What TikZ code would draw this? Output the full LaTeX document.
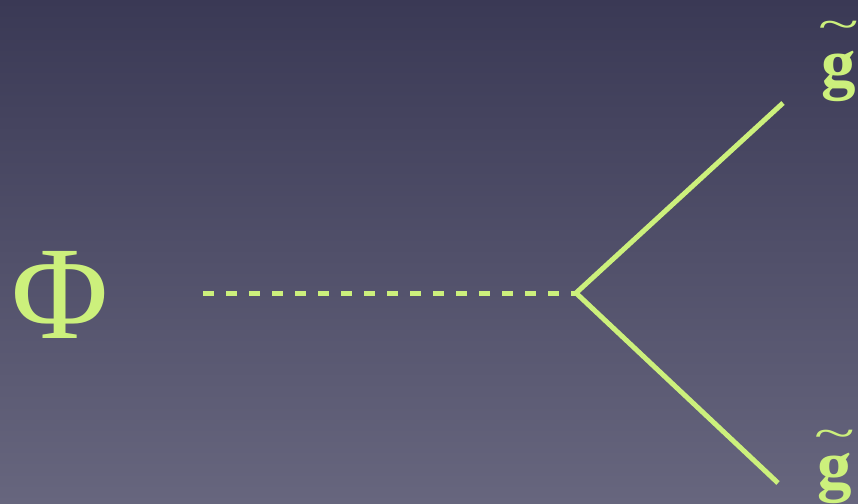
\documentclass[tikz,border=0pt]{standalone}
\usepackage{fontspec}
\setmainfont{Liberation Serif}
\definecolor{lime}{HTML}{CCF07C}
\definecolor{bgtop}{HTML}{3A3955}
\definecolor{bgbot}{HTML}{67667E}
\tikzset{
  lbl/.style={text=lime, inner sep=0pt, anchor=base},
  fermion/.style={draw=lime, line width=5pt},
  scalar/.style={draw=lime, line width=5pt, dash pattern=on 11pt off 12pt},
}
\newcommand{\wtilde}{\scalebox{1.25}[0.7]{\fontsize{60}{60}\selectfont\mdseries\char`\~}}
\newcommand{\gtilde}[1]{{\fontsize{69}{69}\selectfont\bfseries\ooalign{g\cr\hidewidth\raisebox{#1}{\wtilde}\hidewidth\cr}}}
\begin{document}
\begin{tikzpicture}[x=1pt,y=-1pt]
\shade[top color=bgtop, bottom color=bgbot] (0,0) rectangle (858,503);
\useasboundingbox (0,0) rectangle (858,503);
\node[lbl] (phi) at (60,338) {\fontsize{133}{133}\selectfont Φ};
\coordinate (a) at (203,293);
\coordinate (v) at (576,293);
\coordinate (t) at (783,103);
\coordinate (b) at (778,483);
\draw[scalar] (a) -- (v);
\draw[fermion] (v) -- (t);
\draw[fermion] (v) -- (b);
\node[lbl] (g1) at (839,86) {\gtilde{48pt}};
\node[lbl] (g2) at (835,488) {\gtilde{41pt}};
\end{tikzpicture}
\end{document}
